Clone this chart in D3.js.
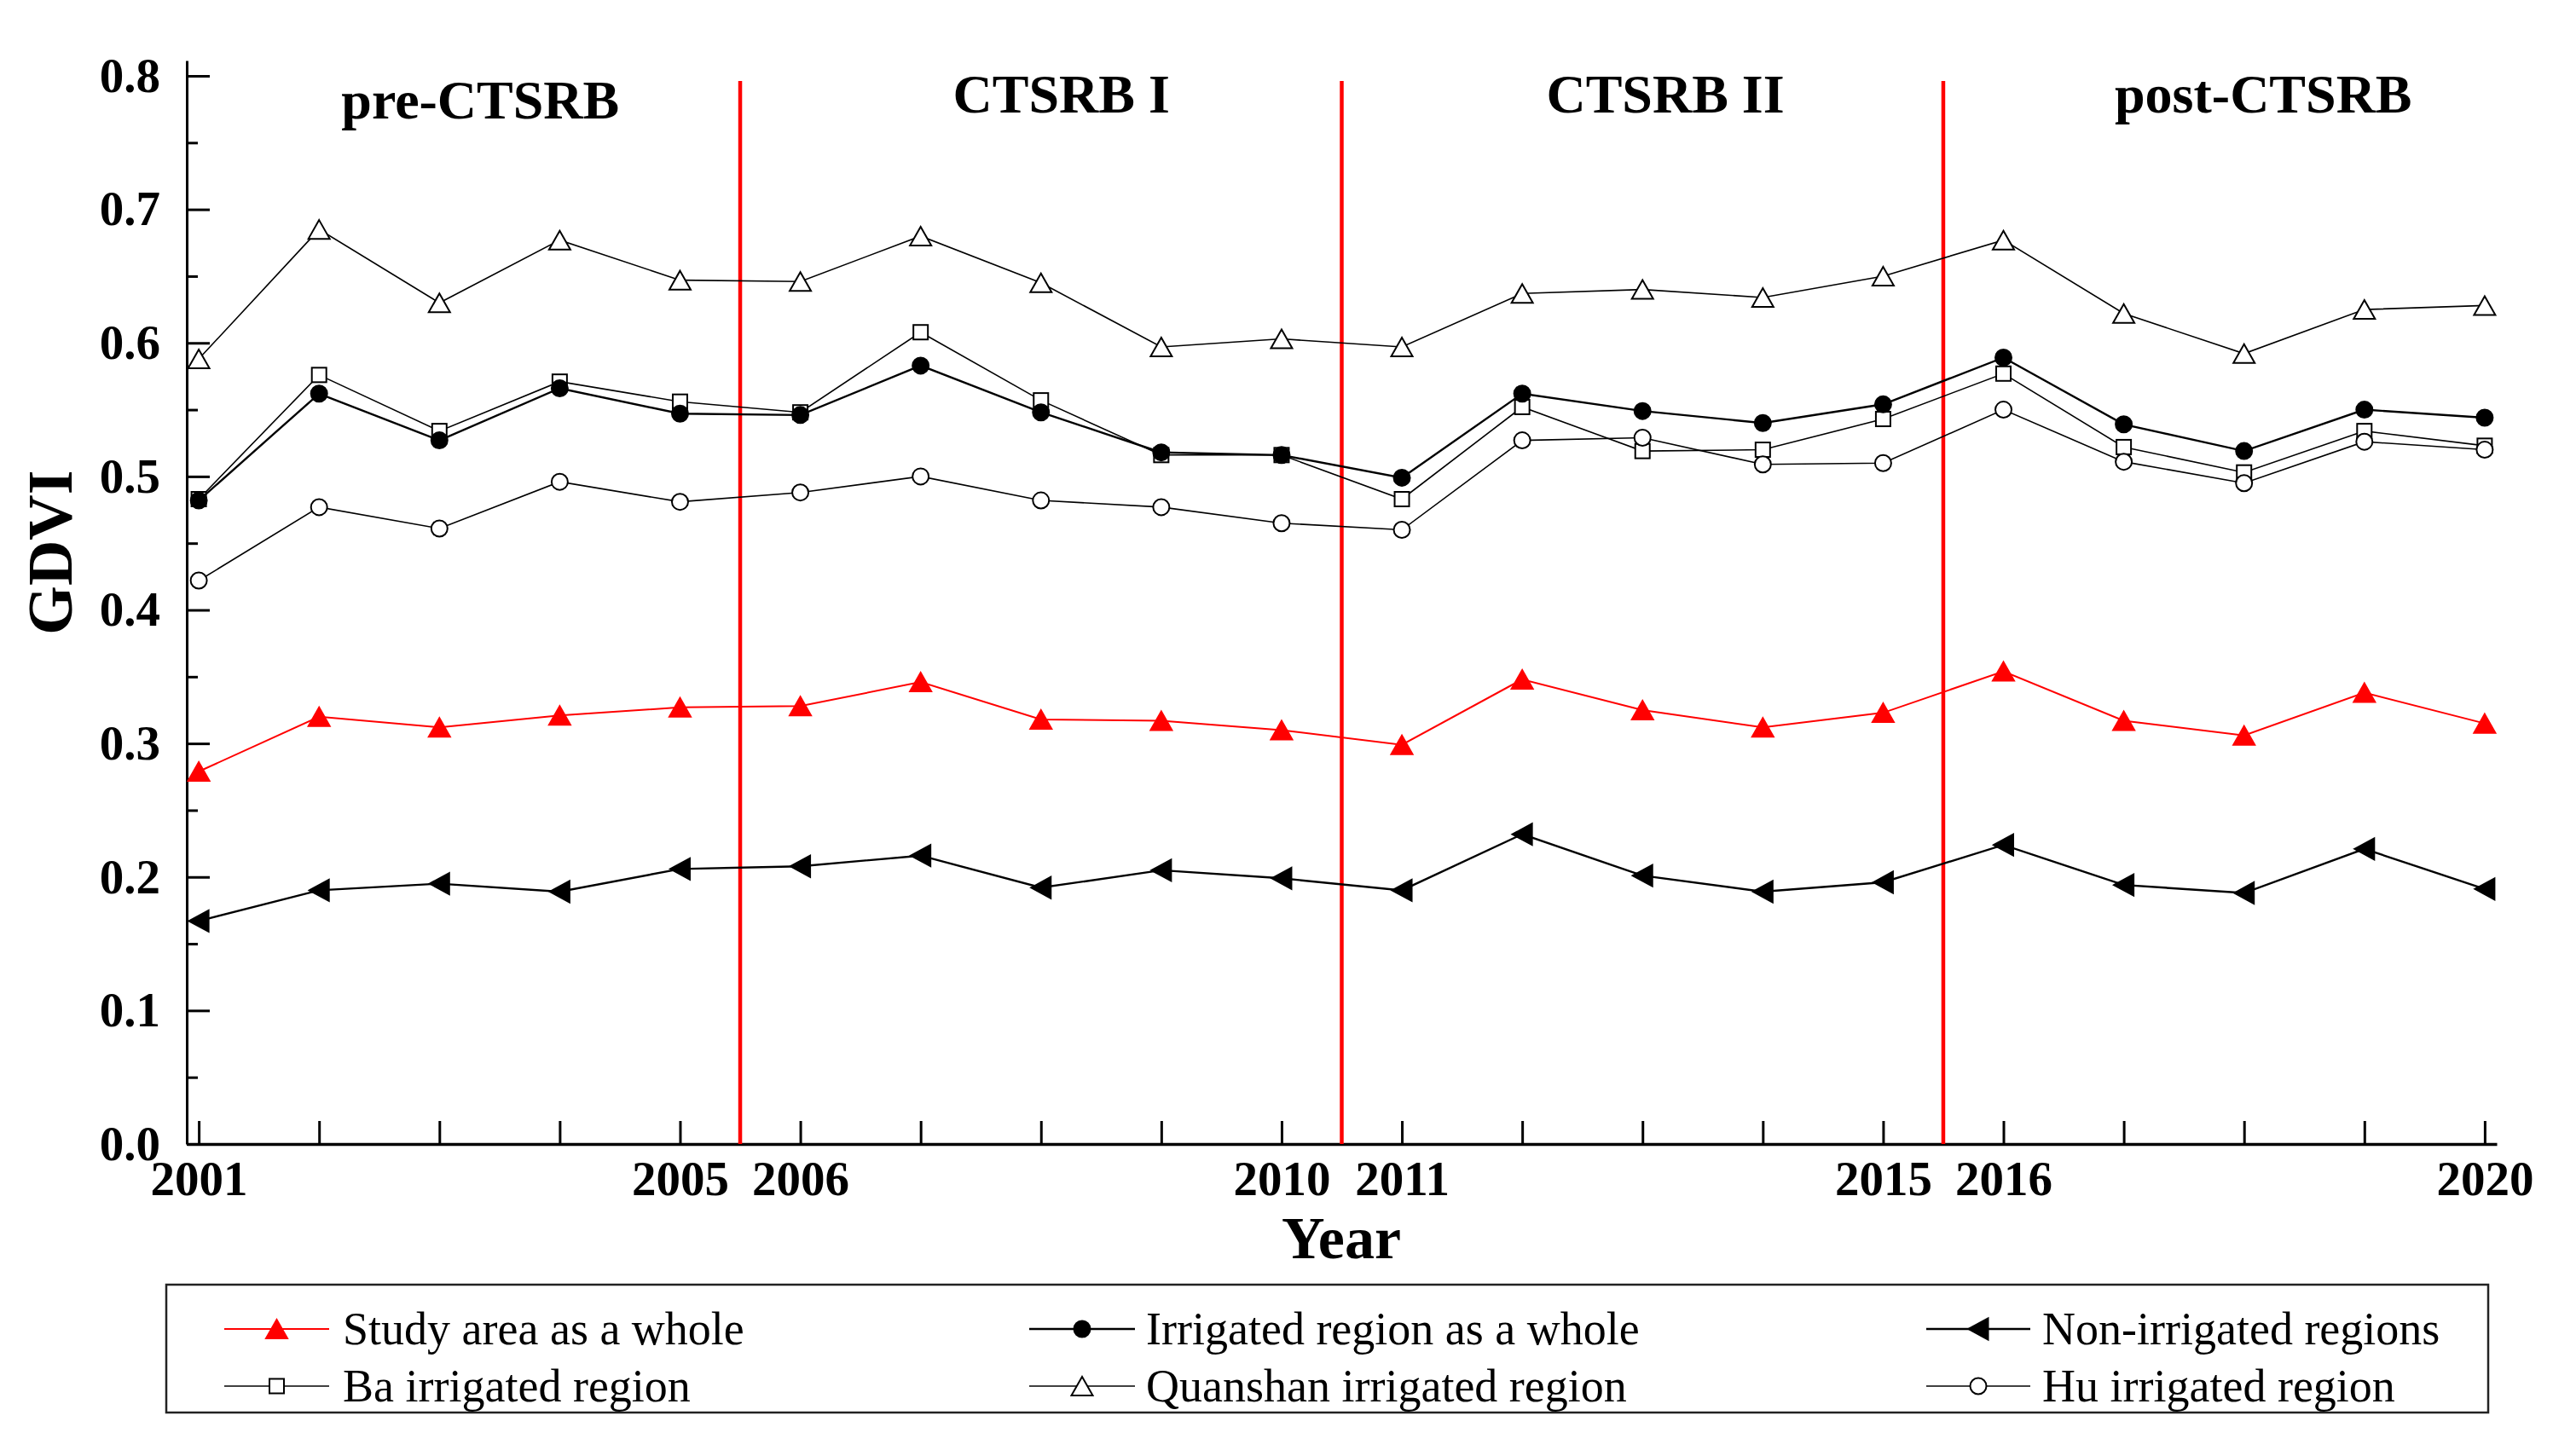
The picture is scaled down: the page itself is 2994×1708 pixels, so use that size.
<!DOCTYPE html>
<html lang="en">
<head>
  <meta charset="utf-8">
  <title>GDVI by year</title>
  <script src="https://d3js.org/d3.v7.min.js"></script>
  <style>
    body { margin: 0; background: #fff; }
    text { font-family: "Liberation Serif", "Times New Roman", serif; }
  </style>
</head>
<body>
  <script type="text/javascript">
  // data
  var years = [2001,2002,2003,2004,2005,2006,2007,2008,2009,2010,2011,2012,2013,2014,2015,2016,2017,2018,2019,2020];
  var labeledYears = [2001,2005,2006,2010,2011,2015,2016,2020];
  var yTicks = [0,0.1,0.2,0.3,0.4,0.5,0.6,0.7,0.8];
  var yMinorTicks = [0.05,0.15,0.25,0.35,0.45,0.55,0.65,0.75];
  var periodBreaks = [2005.5, 2010.5, 2015.5];
  var periodNames = ["pre-CTSRB", "CTSRB I", "CTSRB II", "post-CTSRB"];
  var periodCenters = [2003.34, 2008.17, 2013.19, 2018.16];

  var studyArea   = [0.279,0.320,0.312,0.321,0.327,0.328,0.346,0.318,0.317,0.310,0.299,0.348,0.325,0.312,0.323,0.354,0.317,0.306,0.338,0.315];
  var irrigated   = [0.482,0.562,0.527,0.566,0.547,0.546,0.583,0.548,0.518,0.516,0.499,0.562,0.549,0.540,0.554,0.589,0.539,0.519,0.550,0.544];
  var nonIrrigated= [0.167,0.190,0.195,0.189,0.206,0.208,0.216,0.192,0.205,0.199,0.190,0.232,0.201,0.189,0.196,0.224,0.194,0.188,0.221,0.191];
  var baRegion    = [0.483,0.576,0.534,0.571,0.556,0.548,0.608,0.557,0.516,0.516,0.483,0.552,0.519,0.520,0.543,0.577,0.522,0.503,0.534,0.523];
  var quanshan    = [0.588,0.685,0.630,0.677,0.647,0.646,0.680,0.645,0.597,0.603,0.597,0.637,0.640,0.634,0.650,0.677,0.622,0.592,0.625,0.628];
  var huRegion    = [0.422,0.477,0.461,0.496,0.481,0.488,0.500,0.482,0.477,0.465,0.460,0.527,0.529,0.509,0.510,0.550,0.511,0.495,0.526,0.520];

  var seriesNames = ["Study area as a whole","Irrigated region as a whole","Non-irrigated regions",
                     "Ba irrigated region","Quanshan irrigated region","Hu irrigated region"];

  var w = 2994, h = 1708;
  var svg = d3.select("body").append("svg")
    .attr("width", w).attr("height", h)
    .style("background", "#fff");

  var x = d3.scaleLinear().domain([2000.9, 2020.1]).range([219, 2928]);
  var y = d3.scaleLinear().domain([0, 0.8115]).range([1342, 71]);

  var series = [
    {name: seriesNames[3], values: baRegion,     color: "#000", lw: 1.6, marker: "square",  fill: "#fff"},
    {name: seriesNames[5], values: huRegion,     color: "#000", lw: 1.6, marker: "circle",  fill: "#fff"},
    {name: seriesNames[4], values: quanshan,     color: "#000", lw: 1.6, marker: "triUp",   fill: "#fff"},
    {name: seriesNames[0], values: studyArea,    color: "#ff0000", lw: 2, marker: "triUp", fill: "#ff0000"},
    {name: seriesNames[2], values: nonIrrigated, color: "#000", lw: 2.4, marker: "triLeft", fill: "#000"},
    {name: seriesNames[1], values: irrigated,    color: "#000", lw: 2.4, marker: "circle",  fill: "#000"}
  ];

  function drawMarker(g, type, cx, cy, color, fill) {
    var m;
    if (type == "circle") {
      m = g.append("circle").attr("cx", cx).attr("cy", cy).attr("r", 9.5);
    } else if (type == "square") {
      m = g.append("rect").attr("x", cx - 8.5).attr("y", cy - 8.5).attr("width", 17).attr("height", 17);
    } else if (type == "triUp") {
      m = g.append("path").attr("d", "M" + cx + "," + (cy - 11) + "L" + (cx + 12.5) + "," + (cy + 11) + "L" + (cx - 12.5) + "," + (cy + 11) + "Z");
    } else {
      m = g.append("path").attr("d", "M" + (cx - 11.5) + "," + cy + "L" + (cx + 11.5) + "," + (cy - 12.5) + "L" + (cx + 11.5) + "," + (cy + 12.5) + "Z");
    }
    m.attr("fill", fill).attr("stroke", color).attr("stroke-width", 2);
  }

  // y axis
  var yAxis = svg.append("g").attr("transform", "translate(219,0)")
    .call(d3.axisLeft(y).tickValues(yTicks).tickSize(-27).tickSizeOuter(0).tickPadding(31)
      .tickFormat(d3.format(".1f")));
  svg.append("g").attr("transform", "translate(219,0)")
    .call(d3.axisLeft(y).tickValues(yMinorTicks).tickSize(-13).tickSizeOuter(0).tickFormat(""))
    .select(".domain").remove();
  svg.selectAll("g.tick line").attr("stroke", "#000").attr("stroke-width", 3);
  yAxis.select(".domain").attr("stroke", "#000").attr("stroke-width", 3);
  yAxis.selectAll("text")
    .attr("font-size", 57).attr("font-weight", "bold").attr("fill", "#000")
    .attr("font-family", "Liberation Serif, Times New Roman, serif");

  // x axis
  var xAxis = svg.append("g").attr("transform", "translate(0,1342)")
    .call(d3.axisBottom(x).tickValues(years).tickSize(-27).tickSizeOuter(0).tickPadding(20)
      .tickFormat(function(d){ return labeledYears.indexOf(d) >= 0 ? d : ""; }));
  xAxis.select(".domain").attr("stroke", "#000").attr("stroke-width", 3.5);
  xAxis.selectAll("line").attr("stroke", "#000").attr("stroke-width", 3);
  xAxis.selectAll("text")
    .attr("font-size", 57).attr("font-weight", "bold").attr("fill", "#000")
    .attr("font-family", "Liberation Serif, Times New Roman, serif");

  // axis titles
  svg.append("text")
    .attr("transform", "translate(84,648) rotate(-90)")
    .attr("text-anchor", "middle")
    .attr("font-size", 74).attr("font-weight", "bold")
    .text("GDVI");
  svg.append("text")
    .attr("x", 1573).attr("y", 1476)
    .attr("text-anchor", "middle")
    .attr("font-size", 70).attr("font-weight", "bold")
    .text("Year");

  // period separators
  svg.selectAll(".sep").data(periodBreaks).enter().append("line")
    .attr("class", "sep")
    .attr("x1", function(d){ return x(d); }).attr("x2", function(d){ return x(d); })
    .attr("y1", 95).attr("y2", 1342)
    .attr("stroke", "#ff0000").attr("stroke-width", 4.5);

  svg.selectAll(".period").data(periodNames).enter().append("text")
    .attr("class", "period")
    .attr("x", function(d, i){ return x(periodCenters[i]); })
    .attr("y", function(d, i){ return i == 0 ? 139 : 132; })
    .attr("text-anchor", "middle")
    .attr("font-size", 64).attr("font-weight", "bold")
    .text(function(d){ return d; });

  // lines and markers
  var line = d3.line()
    .x(function(d, i){ return x(years[i]); })
    .y(function(d){ return y(d); });

  series.forEach(function(s){
    var g = svg.append("g");
    g.append("path")
      .attr("d", line(s.values))
      .attr("fill", "none")
      .attr("stroke", s.color)
      .attr("stroke-width", s.lw);
    s.values.forEach(function(v, i){
      drawMarker(g, s.marker, x(years[i]), y(v), s.color, s.fill);
    });
  });

  // legend
  svg.append("rect")
    .attr("x", 195).attr("y", 1507).attr("width", 2723).attr("height", 150)
    .attr("fill", "none").attr("stroke", "#222").attr("stroke-width", 2.5);

  var legendOrder = [3, 5, 4, 0, 2, 1]; // index into series, as Study, Irrigated, Non / Ba, Quanshan, Hu
  var legendItems = [
    series[3], series[5], series[4],
    series[0], series[2], series[1]
  ];
  var colLine = [[263, 386], [1207, 1331], [2259, 2381]];
  var colText = [402, 1344, 2395];
  var rowY = [1559, 1626];

  legendItems.forEach(function(s, i){
    var r = Math.floor(i / 3), c = i % 3;
    var ly = rowY[r];
    var g = svg.append("g");
    g.append("line")
      .attr("x1", colLine[c][0]).attr("x2", colLine[c][1])
      .attr("y1", ly).attr("y2", ly)
      .attr("stroke", s.color).attr("stroke-width", s.lw);
    drawMarker(g, s.marker, (colLine[c][0] + colLine[c][1]) / 2, ly, s.color, s.fill);
    g.append("text")
      .attr("x", colText[c]).attr("y", ly + 18)
      .attr("font-size", 54)
      .text(s.name);
  });
  </script>
</body>
</html>
